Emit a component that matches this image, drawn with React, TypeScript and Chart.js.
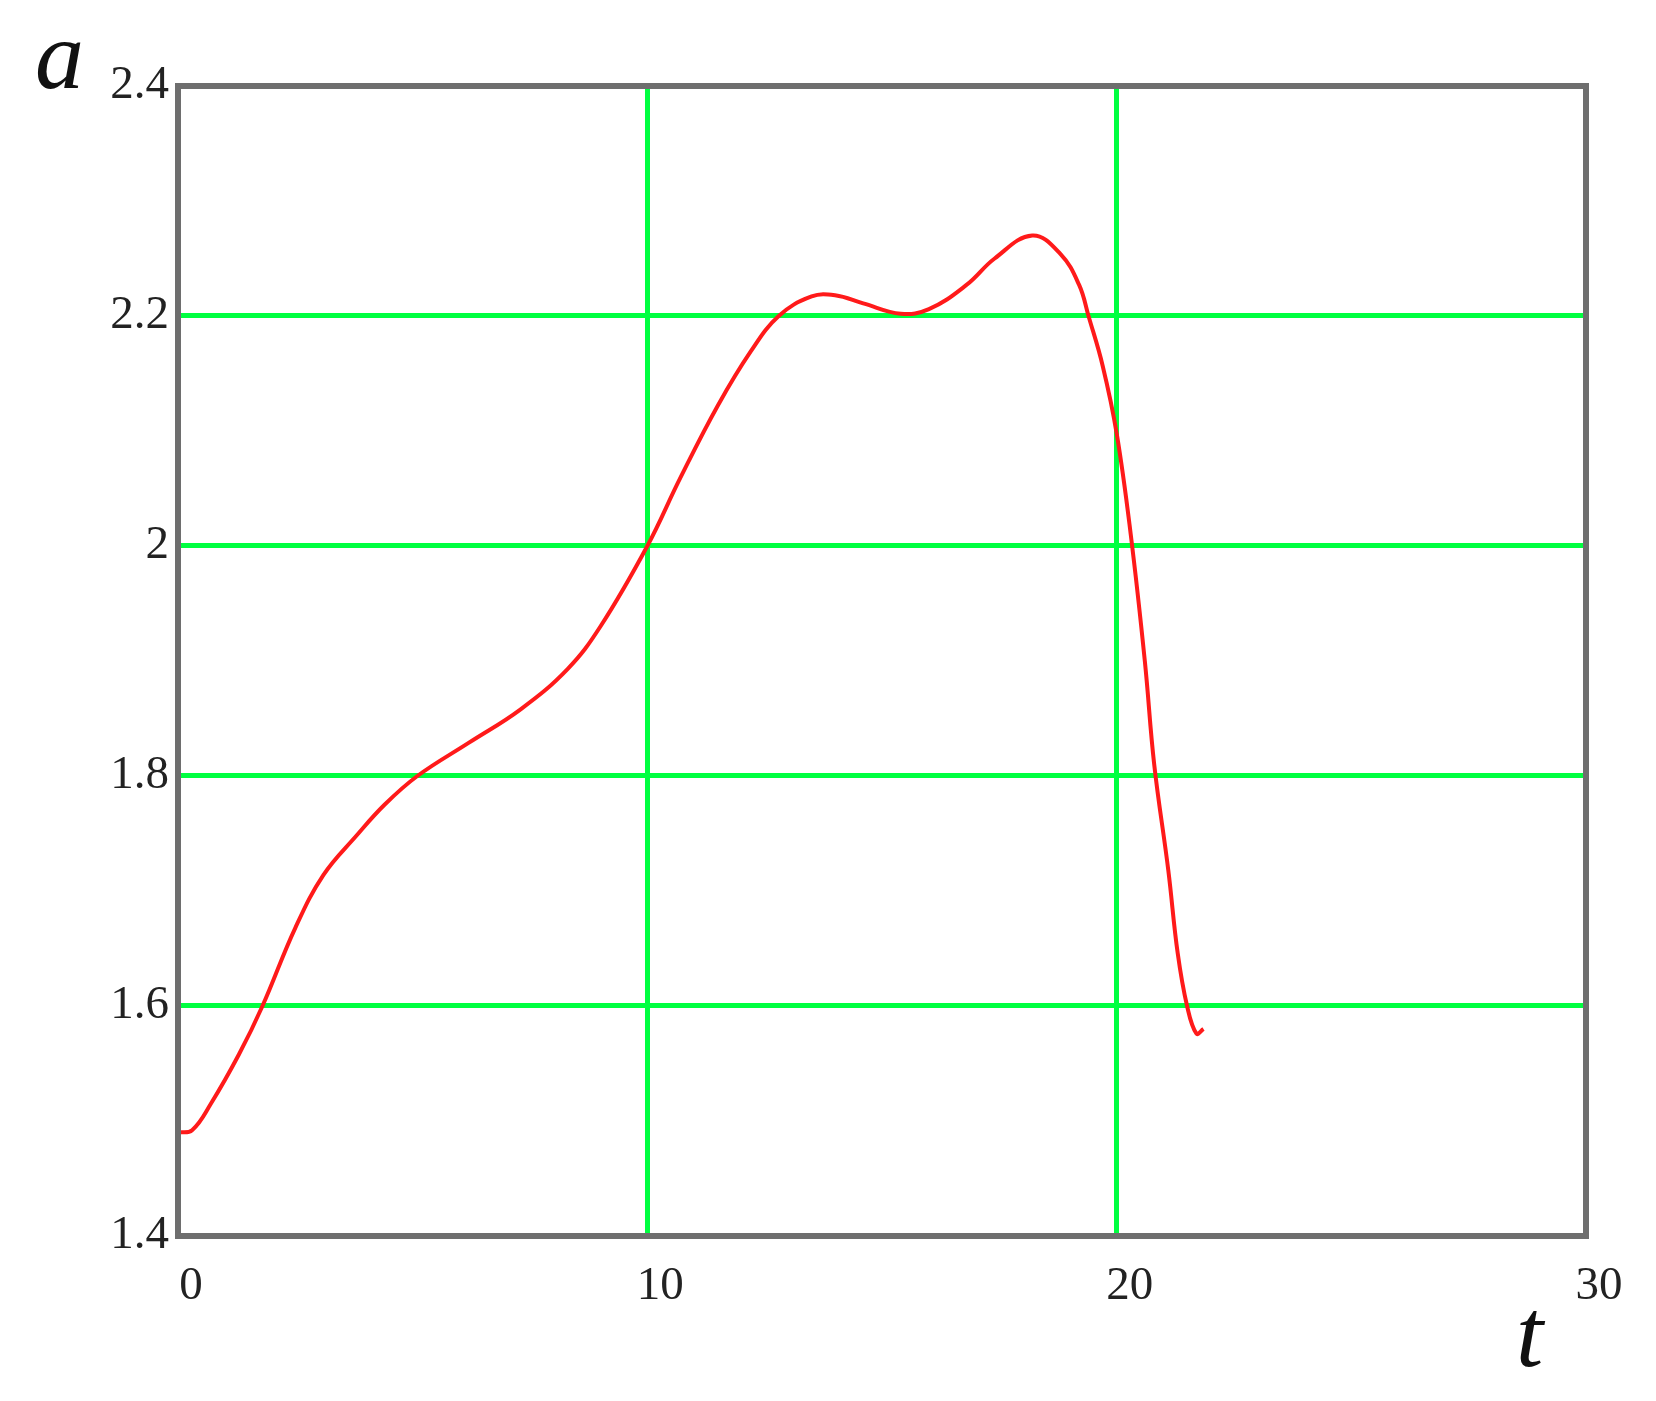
import React, { useEffect, useRef } from 'react';
import { Chart, registerables } from 'chart.js';

Chart.register(...registerables);

const tValues = [0, 0.3, 0.7, 1.3, 1.8, 2.5, 3.1, 3.8, 4.4, 5.1, 6.2, 7.3, 8.3, 9.0, 10.0, 10.7, 11.5, 12.2, 12.8, 13.5, 14.0, 14.6, 15.4, 16.0, 16.8, 17.4, 18.2, 18.8, 19.2, 19.4, 19.7, 20.0, 20.3, 20.6, 20.8, 21.1, 21.3, 21.5, 21.7, 21.85];
const aValues = [1.49, 1.492, 1.515, 1.558, 1.6, 1.668, 1.714, 1.748, 1.775, 1.8, 1.829, 1.858, 1.893, 1.93, 2.0, 2.059, 2.122, 2.169, 2.2, 2.217, 2.218, 2.211, 2.202, 2.206, 2.227, 2.25, 2.27, 2.254, 2.227, 2.2, 2.157, 2.098, 2.01, 1.9, 1.81, 1.718, 1.646, 1.6, 1.576, 1.58];

const xTickLabels = ['0', '10', '20', '30'];
const yTickLabels = ['1.4', '1.6', '1.8', '2', '2.2', '2.4'];

const W = 1656;
const H = 1401;
const GREEN = '#00ff40';
const FRAME = '#6e6e6e';
const FONT = '"Liberation Serif", "DejaVu Serif", serif';

const framePlugin = {
  id: 'frameAndTitles',
  afterDatasetsDraw(chart: any) {
    const { ctx, chartArea } = chart;
    const { left, top, right, bottom } = chartArea;
    ctx.save();
    ctx.strokeStyle = FRAME;
    ctx.lineWidth = 6;
    ctx.strokeRect(left, top, right - left, bottom - top);

    ctx.fillStyle = '#111';
    ctx.font = `italic 98px ${FONT}`;
    ctx.textBaseline = 'alphabetic';
    ctx.textAlign = 'left';
    ctx.fillText('a', left - 143, top + 2);
    ctx.fillText('t', right - 70, bottom + 130);
    ctx.restore();
  },
};

const gridColor = (c: any) => {
  const v = c.tick?.value;
  const s = c.scale;
  if (Math.abs(v - s.min) < 1e-6 || Math.abs(v - s.max) < 1e-6) return 'rgba(0,0,0,0)';
  return GREEN;
};

export default function App() {
  const canvasRef = useRef<HTMLCanvasElement>(null);

  useEffect(() => {
    const ctx = canvasRef.current?.getContext('2d');
    if (!ctx) return;
    const chart = new Chart(ctx, {
      type: 'line',
      data: {
        datasets: [
          {
            data: tValues.map((t, i) => ({ x: t, y: aValues[i] })),
            borderColor: '#ff1a1a',
            borderWidth: 4,
            pointRadius: 0,
            fill: false,
            tension: 0.4,
          },
        ],
      },
      options: {
        animation: false,
        responsive: false,
        devicePixelRatio: 1,
        layout: { padding: { left: 0, top: 86, right: 70, bottom: 0 } },
        plugins: { legend: { display: false }, tooltip: { enabled: false } },
        scales: {
          x: {
            type: 'linear',
            min: 0,
            max: 30,
            border: { display: false },
            grid: { color: gridColor, lineWidth: 5, drawTicks: false },
            ticks: {
              stepSize: 10,
              padding: 22,
              labelOffset: 13,
              color: '#222',
              font: { family: FONT, size: 47 },
              callback: (_v: any, i: number) => xTickLabels[i],
            },
            afterFit: (s: any) => {
              s.height = 165;
            },
          },
          y: {
            type: 'linear',
            min: 1.4,
            max: 2.4,
            border: { display: false },
            grid: { color: gridColor, lineWidth: 5, drawTicks: false },
            ticks: {
              stepSize: 0.2,
              padding: 9,
              color: '#222',
              font: { family: FONT, size: 47 },
              callback: (_v: any, i: number) => yTickLabels[i],
            },
            afterFit: (s: any) => {
              s.width = 178;
            },
          },
        },
      },
      plugins: [framePlugin],
    });
    return () => {
      chart.destroy();
    };
  }, []);

  return (
    <div style={{ position: 'absolute', left: 0, top: 0, width: W, height: H, background: '#fff' }}>
      <canvas ref={canvasRef} width={W} height={H}></canvas>
    </div>
  );
}
